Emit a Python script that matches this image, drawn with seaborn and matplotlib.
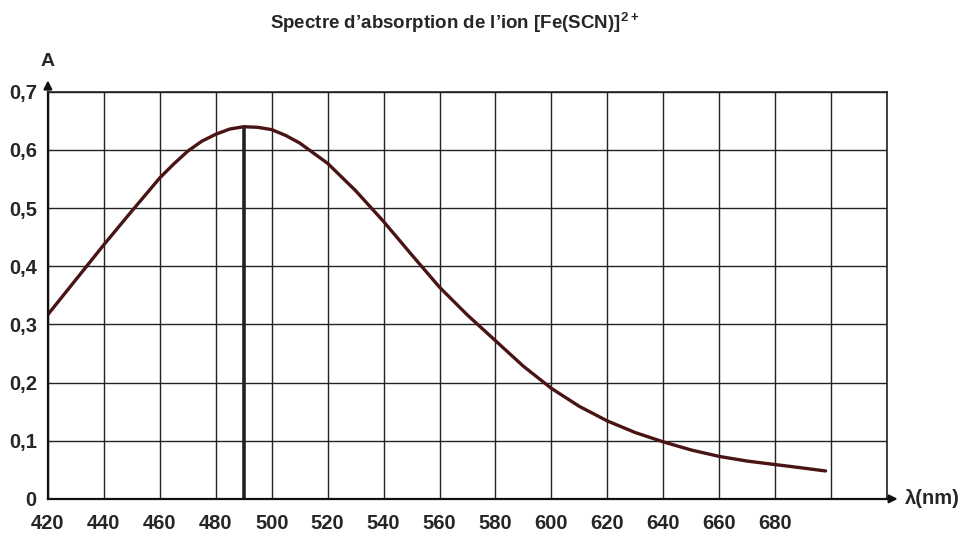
import matplotlib
matplotlib.use("Agg")
import matplotlib.pyplot as plt
import seaborn as sns
import pandas as pd

# values
wavelength_nm = [420, 430, 440, 450, 460, 465, 470, 475, 480, 485, 490, 495, 500, 505, 510,
                 520, 530, 540, 550, 560, 570, 580, 590, 600, 610, 620, 630, 640, 650,
                 660, 670, 680, 690, 698]
absorbance = [0.317, 0.377, 0.437, 0.495, 0.552, 0.576, 0.598, 0.615, 0.627, 0.636, 0.640,
              0.639, 0.635, 0.625, 0.612, 0.577, 0.530, 0.477, 0.420, 0.364, 0.316,
              0.272, 0.228, 0.190, 0.159, 0.134, 0.114, 0.098, 0.084, 0.073, 0.065,
              0.059, 0.053, 0.048]
lambda_max = 490
a_max = 0.640
x_ticks = [420, 440, 460, 480, 500, 520, 540, 560, 580, 600, 620, 640, 660, 680, 700]
x_labels = ["420", "440", "460", "480", "500", "520", "540", "560", "580", "600",
            "620", "640", "660", "680", ""]
y_ticks = [0, 0.1, 0.2, 0.3, 0.4, 0.5, 0.6, 0.7]
y_labels = ["0", "0,1", "0,2", "0,3", "0,4", "0,5", "0,6", "0,7"]

sns.set_style("white")
plt.rcParams['font.family'] = ['Liberation Sans', 'DejaVu Sans']
plt.rcParams['mathtext.fontset'] = 'custom'
plt.rcParams['mathtext.rm'] = 'Liberation Sans'
plt.rcParams['mathtext.bf'] = 'Liberation Sans:bold'

df = pd.DataFrame({"lambda": wavelength_nm, "A": absorbance})

fig = plt.figure(figsize=(9.58, 5.37), dpi=100)
ax = fig.add_axes([0.050, 0.071, 0.876, 0.758])

ax.set_xlim(420, 720)
ax.set_ylim(0, 0.7)
ax.set_xticks(x_ticks + [720])
ax.set_xticklabels(x_labels + [""], fontsize=14.5, fontweight="bold")
ax.set_yticks(y_ticks)
ax.set_yticklabels(y_labels, fontsize=14.5, fontweight="bold")
ax.grid(True, color="#222222", linewidth=1.0)
ax.tick_params(axis="x", direction="out", length=5, width=1, color="#222222", pad=6)
ax.tick_params(axis="y", direction="out", length=5, width=1, color="#222222", pad=3)

sns.lineplot(data=df, x="lambda", y="A", ax=ax, color="#4a1414", linewidth=2.4)
ax.vlines(lambda_max, 0, a_max, color="#222222", linewidth=2.6)

for side in ["top", "right"]:
    ax.spines[side].set_color("#222222")
    ax.spines[side].set_linewidth(1.2)
ax.spines["left"].set_linewidth(1.6)
ax.spines["bottom"].set_linewidth(1.6)
ax.spines["left"].set_color("#111111")
ax.spines["bottom"].set_color("#111111")
ax.set_xlabel("")
ax.set_ylabel("")

# axis arrows and labels
ax.annotate("", xy=(0, 1.035), xytext=(0, 1.0), xycoords="axes fraction",
            arrowprops=dict(arrowstyle="-|>", color="#111111", lw=1.6, mutation_scale=12))
ax.text(0.0, 1.075, "A", transform=ax.transAxes, ha="center", va="center",
        fontsize=14, fontweight="bold")
ax.annotate("", xy=(1.016, 0), xytext=(1.0, 0), xycoords="axes fraction",
            arrowprops=dict(arrowstyle="-|>", color="#111111", lw=1.6, mutation_scale=12))
ax.text(1.021, 0.0, "λ(nm)", transform=ax.transAxes, ha="left", va="center",
        fontsize=14.5, fontweight="bold")

fig.text(0.475, 0.958, r"Spectre d’absorption de l’ion [Fe(SCN)]$^{\mathbf{2+}}$",
         ha="center", va="center", fontsize=13.5, fontweight="bold")

fig.savefig("out.png", dpi=100)
